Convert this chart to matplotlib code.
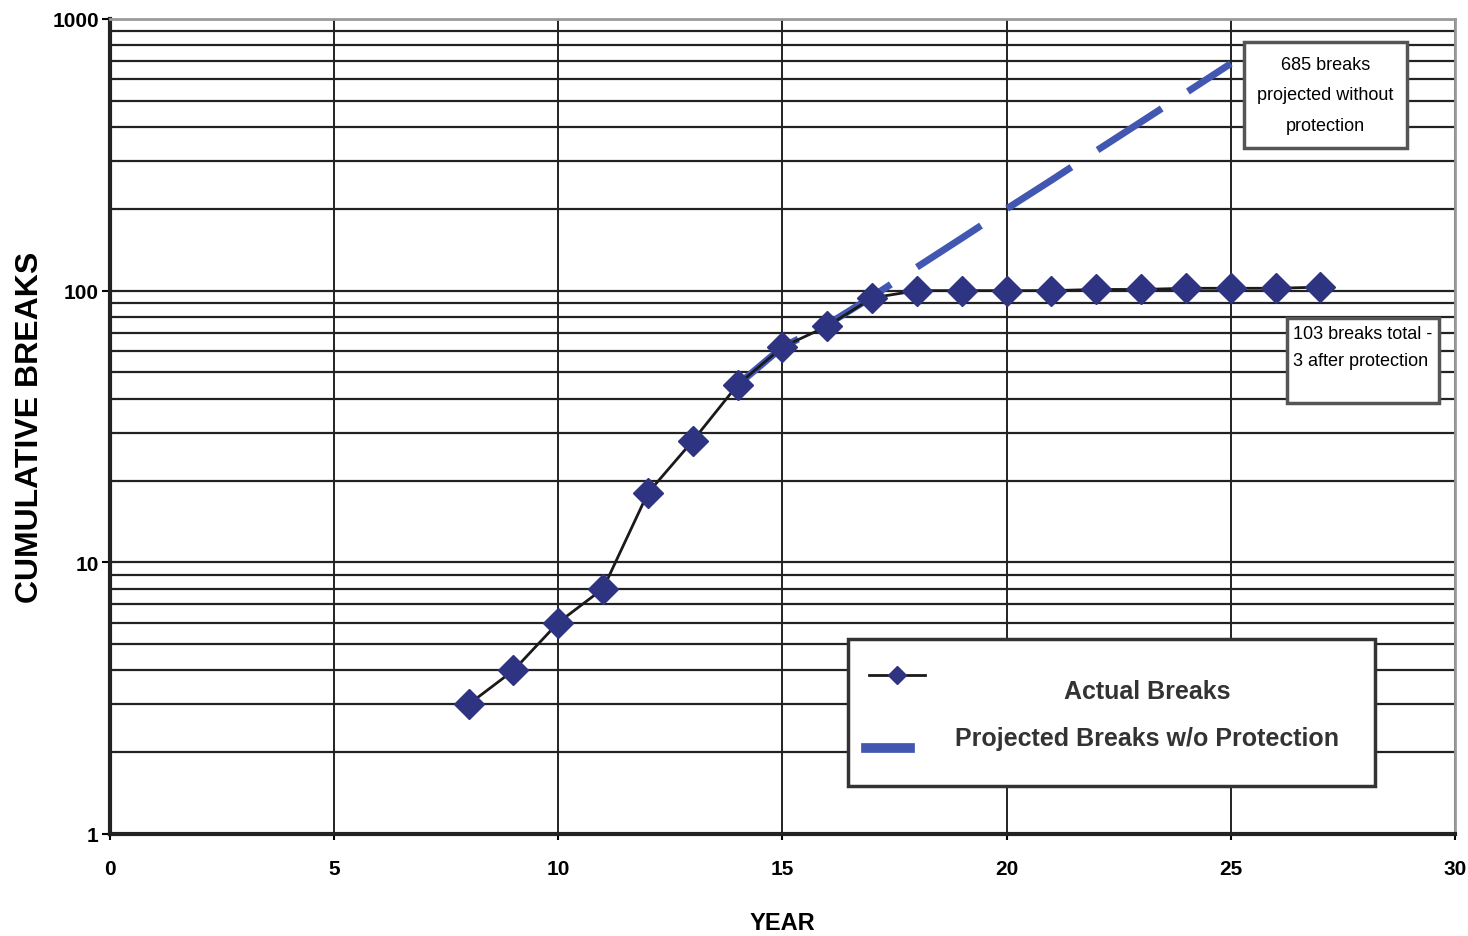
import numpy as np
import matplotlib.pyplot as plt
from matplotlib.lines import Line2D
from matplotlib.patches import Rectangle
from matplotlib.ticker import FixedLocator, LogLocator, NullFormatter

# Data
years_actual = [8, 9, 10, 11, 12, 13, 14, 15, 16, 17, 18, 19, 20, 21, 22, 23, 24, 25, 26, 27]
actual_breaks = [3, 4, 6, 8, 18, 28, 45, 62, 74, 94, 100, 100, 100, 100, 101, 101, 102, 102, 102, 103]

years_proj = [14, 15, 16, 17, 18, 19, 20, 21, 22, 23, 24, 25]
proj_breaks = [45, 62, 75, 95, 122, 156, 200, 255, 327, 418, 535, 685]

x_ticks = [0, 5, 10, 15, 20, 25, 30]
y_ticks = [1, 10, 100, 1000]

plt.rcParams['font.family'] = ['Liberation Sans', 'DejaVu Sans']

fig = plt.figure(figsize=(14.68, 9.37), dpi=100)
ax = fig.add_axes([0.0749, 0.1089, 0.9162, 0.8698])

ax.set_yscale('log')
ax.set_xlim(0, 30)
ax.set_ylim(1, 1000)

# grid: vertical every 5 years, horizontal at every log minor step
ax.xaxis.set_major_locator(FixedLocator(x_ticks))
ax.yaxis.set_major_locator(FixedLocator(y_ticks))
ax.yaxis.set_minor_locator(LogLocator(base=10, subs=np.arange(2, 10)))
ax.yaxis.set_minor_formatter(NullFormatter())
ax.grid(True, which='both', axis='y', color='#222222', linewidth=1.6)
ax.grid(True, which='major', axis='x', color='#222222', linewidth=1.4)
ax.set_axisbelow(True)

ax.set_xticklabels([str(t) for t in x_ticks], fontsize=15, fontweight='bold')
ax.set_yticklabels([str(t) for t in y_ticks], fontsize=15, fontweight='bold')
ax.tick_params(axis='x', length=4, width=1.5, pad=14, direction='out')
ax.tick_params(axis='y', which='major', length=6, width=1.5, pad=2, direction='out')
ax.tick_params(axis='y', which='minor', length=0)

for side in ['left', 'bottom']:
    ax.spines[side].set_linewidth(3)
    ax.spines[side].set_color('#222222')
for side in ['top', 'right']:
    ax.spines[side].set_linewidth(2)
    ax.spines[side].set_color('#9a9a9a')

# projected line (dashed blue)
ax.plot(years_proj, proj_breaks, color='#4257b2', linewidth=5,
        dashes=(11, 4.5), zorder=3)
# actual breaks
ax.plot(years_actual, actual_breaks, color='#1a1a1a', linewidth=2,
        marker='D', markersize=15, markerfacecolor='#2e3482',
        markeredgecolor='#2e3482', zorder=4)

ax.set_xlabel('YEAR', fontsize=17, fontweight='bold', labelpad=24)
ax.set_ylabel('CUMULATIVE BREAKS', fontsize=23, fontweight='bold')
ax.yaxis.set_label_coords(-0.048, 0.5)

# annotation boxes
ax.text(0.9036, 0.9067, '685 breaks\nprojected without\nprotection', transform=ax.transAxes,
        ha='center', va='center', fontsize=13, linespacing=2.05,
        bbox=dict(boxstyle='square,pad=0.75', facecolor='white', edgecolor='#555555', linewidth=2.5),
        zorder=6)
ax.text(0.8796, 0.581, '103 breaks total -\n3 after protection\n ', transform=ax.transAxes,
        ha='left', va='center', fontsize=13, linespacing=1.8,
        bbox=dict(boxstyle='square,pad=0.35', facecolor='white', edgecolor='#555555', linewidth=2.5),
        zorder=6)

# legend drawn as a box with sample lines
lx0, ly0 = 0.5487, 0.0589
lw, lh = 0.3918, 0.1804
ax.add_patch(Rectangle((lx0, ly0), lw, lh, transform=ax.transAxes, facecolor='white',
                       edgecolor='#333333', linewidth=2.5, zorder=7))
ax.add_line(Line2D([0.564, 0.606], [0.195, 0.195], transform=ax.transAxes, color='#1a1a1a',
                   linewidth=2, zorder=8))
ax.add_line(Line2D([0.585], [0.195], transform=ax.transAxes, marker='D', markersize=9,
                   color='#2e3482', zorder=9))
ax.add_line(Line2D([0.562, 0.595], [0.106, 0.106], transform=ax.transAxes, color='#4257b2',
                   linewidth=7, zorder=8))
ax.text(0.7713, 0.176, 'Actual Breaks', transform=ax.transAxes, ha='center', va='center',
        fontsize=18, fontweight='bold', color='#333333', zorder=9)
ax.text(0.7713, 0.118, 'Projected Breaks w/o Protection', transform=ax.transAxes, ha='center',
        va='center', fontsize=18, fontweight='bold', color='#333333', zorder=9)

fig.savefig('out.png', dpi=100)
